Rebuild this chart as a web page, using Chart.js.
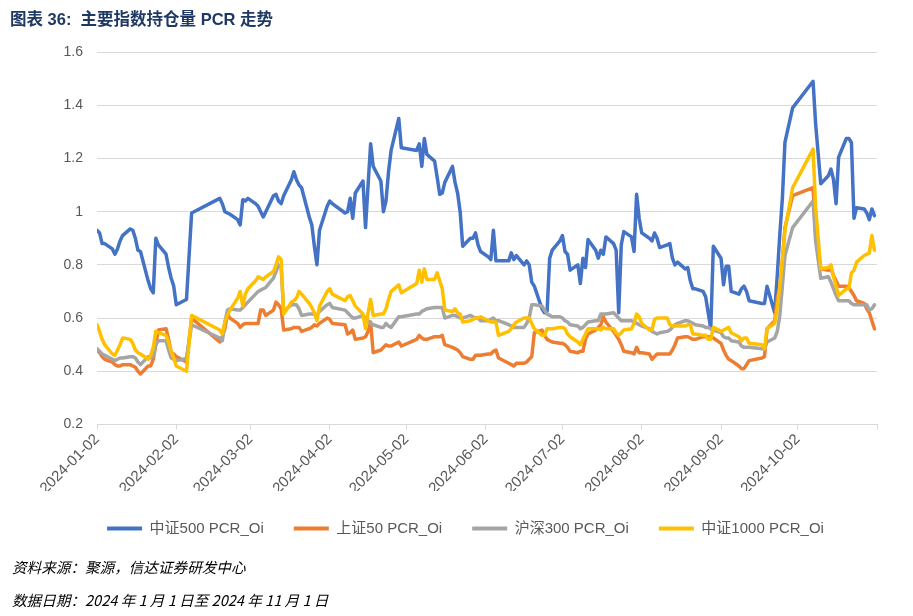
<!DOCTYPE html>
<html>
<head>
<meta charset="utf-8">
<title>主要指数持仓量 PCR 走势</title>
<script src="https://cdn.jsdelivr.net/npm/chart.js@4"></script>
<style>
  html, body { margin: 0; padding: 0; background: #fff; }
  .page { position: relative; width: 913px; height: 616px; overflow: hidden; }
  canvas { position: absolute; left: 0; top: 0; }
  .chart-title {
    position: absolute; left: 10px; top: 6px;
    font: bold 16.5px "Liberation Sans", "Noto Sans CJK SC", sans-serif;
    color: #1F3864; white-space: pre;
  }
  .note {
    position: absolute; left: 12px;
    font: italic 14.6px "Noto Sans CJK SC", sans-serif;
    color: #000; white-space: pre;
  }
</style>
</head>
<body>
<div class="page">
  <canvas id="pcrChart" width="913" height="616"></canvas>
  <div class="chart-title">图表 36:  主要指数持仓量 PCR 走势</div>
  <div class="note" style="top:556px">资料来源：聚源，信达证券研发中心</div>
  <div class="note" style="top:589px">数据日期：2024 年 1 月 1 日至 2024 年 11 月 1 日</div>
</div>
<script>
// trading days of 2024 (MM-DD), one row per week
const tradeDates = [
  '01-02','01-03','01-04','01-05',
  '01-08','01-09','01-10','01-11','01-12',
  '01-15','01-16','01-17','01-18','01-19',
  '01-22','01-23','01-24','01-25','01-26',
  '01-29','01-30','01-31','02-01','02-02',
  '02-05','02-06','02-08',
  '02-19','02-20','02-21','02-22','02-23',
  '02-26','02-27','02-28','02-29','03-01',
  '03-04','03-05','03-06','03-07','03-08',
  '03-11','03-12','03-13','03-14','03-15',
  '03-18','03-19','03-20','03-21','03-22',
  '03-25','03-26','03-27','03-28','03-29',
  '04-01','04-02','04-03',
  '04-08','04-09','04-10','04-11','04-12',
  '04-15','04-16','04-17','04-18','04-19',
  '04-22','04-23','04-24','04-25','04-26',
  '04-29','04-30',
  '05-06','05-07','05-08','05-09','05-10',
  '05-13','05-14','05-15','05-16','05-17',
  '05-20','05-21','05-22','05-23','05-24',
  '05-27','05-28','05-29','05-30','05-31',
  '06-03','06-04','06-05','06-06','06-07',
  '06-11','06-12','06-13','06-14',
  '06-17','06-18','06-19','06-20','06-21',
  '06-24','06-25','06-26','06-27','06-28',
  '07-01','07-02','07-03','07-04','07-05',
  '07-08','07-09','07-10','07-11','07-12',
  '07-15','07-16','07-17','07-18','07-19',
  '07-22','07-23','07-24','07-25','07-26',
  '07-29','07-30','07-31','08-01','08-02',
  '08-05','08-06','08-07','08-08','08-09',
  '08-12','08-13','08-14','08-15','08-16',
  '08-19','08-20','08-21','08-22','08-23',
  '08-26','08-27','08-28','08-29','08-30',
  '09-02','09-03','09-04','09-05','09-06',
  '09-09','09-10','09-11','09-12','09-13',
  '09-18','09-19','09-20',
  '09-23','09-24','09-25','09-26','09-27',
  '09-30',
  '10-08','10-09','10-11',
  '10-14','10-15','10-16','10-17','10-18',
  '10-21','10-22','10-23','10-24','10-25',
  '10-28','10-29','10-30','10-31','11-01'
];

const csi500PcrOi = [
  .93,.92,.88,.88,
  .86,.84,.86,.89,.91,
  .935,.93,.90,.855,.85,
  .74,.71,.695,.90,.875,
  .84,.79,.75,.72,.65,
  .665,.67,.995,
  1.05,1.03,1.0,.995,.99,
  .97,.95,1.045,1.04,1.05,
  1.03,1.02,1.0,.98,1.0,
  1.06,1.065,1.04,1.03,1.06,
  1.12,1.15,1.12,1.10,1.09,
  .98,.95,.87,.80,.93,
  1.02,1.04,1.03,
  .995,1.0,1.05,.975,1.07,
  1.115,.94,1.10,1.255,1.17,
  1.115,1.0,1.04,1.15,1.23,
  1.35,1.24,
  1.23,1.255,1.17,1.275,1.215,
  1.19,1.13,1.065,1.07,1.11,
  1.17,1.11,1.07,1.0,.87,
  .90,.90,.92,.875,.85,
  .83,.82,.93,.815,.815,
  .815,.845,.82,.835,
  .80,.815,.80,.735,.72,
  .635,.62,.625,.825,.855,
  .89,.91,.85,.84,.78,
  .80,.73,.825,.79,.895,
  .855,.825,.855,.84,.905,
  .88,.855,.62,.875,.925,
  .905,.85,1.065,.975,.92,
  .90,.89,.92,.90,.865,
  .875,.88,.825,.80,.81,
  .785,.79,.74,.71,.71,
  .70,.68,.62,.56,.87,
  .825,.725,.795,.795,.70,
  .69,.71,.72,.70,.665,
  .655,.655,.72,
  .62,.76,.915,1.05,1.26,
  1.39,
  1.49,1.33,1.105,
  1.135,1.16,1.12,1.03,1.205,
  1.275,1.275,1.26,.975,1.015,
  1.01,.995,.97,1.01,.985
];

const sse50PcrOi = [
  .48,.47,.455,.445,
  .435,.425,.42,.42,.425,
  .425,.42,.415,.40,.39,
  .42,.42,.445,.50,.555,
  .56,.52,.47,.465,.455,
  .44,.435,.60,
  .51,.53,.56,.615,.60,
  .58,.565,.575,.58,.58,
  .58,.58,.63,.63,.61,
  .63,.66,.65,.635,.555,
  .56,.565,.565,.565,.55,
  .56,.565,.575,.57,.58,
  .60,.595,.58,
  .575,.54,.545,.555,.52,
  .525,.53,.55,.585,.47,
  .48,.49,.50,.495,.495,
  .51,.495,
  .52,.535,.525,.52,.52,
  .53,.53,.53,.535,.50,
  .49,.485,.48,.47,.455,
  .445,.445,.46,.46,.46,
  .465,.465,.475,.48,.45,
  .43,.425,.42,.43,
  .43,.435,.445,.455,.545,
  .555,.535,.52,.515,.51,
  .505,.505,.50,.49,.475,
  .47,.475,.475,.52,.54,
  .555,.565,.575,.605,.585,
  .55,.535,.52,.50,.475,
  .47,.465,.49,.47,.47,
  .465,.445,.455,.465,.465,
  .465,.465,.48,.50,.525,
  .53,.53,.525,.52,.52,
  .53,.53,.53,.53,.525,
  .505,.48,.46,.445,.44,
  .42,.41,.41,.425,.44,
  .45,.455,.56,
  .59,.675,.715,.815,.94,
  1.06,
  1.09,.92,.785,
  .78,.785,.76,.74,.72,
  .72,.715,.70,.685,.665,
  .655,.635,.62,.59,.56
];

const hs300PcrOi = [
  .485,.475,.465,.46,
  .445,.44,.445,.45,.45,
  .455,.455,.45,.435,.425,
  .455,.45,.46,.50,.515,
  .515,.48,.45,.445,.44,
  .445,.45,.575,
  .525,.515,.585,.63,.635,
  .63,.63,.64,.65,.66,
  .69,.70,.705,.71,.715,
  .75,.775,.80,.79,.625,
  .65,.65,.65,.635,.61,
  .615,.615,.615,.61,.625,
  .65,.655,.64,
  .63,.62,.61,.60,.60,
  .61,.60,.59,.58,.575,
  .565,.565,.58,.57,.565,
  .605,.605,
  .615,.615,.625,.63,.635,
  .64,.64,.64,.64,.60,
  .61,.61,.605,.60,.60,
  .61,.605,.60,.60,.59,
  .59,.595,.60,.59,.59,
  .575,.57,.565,.565,
  .565,.58,.60,.65,.65,
  .645,.63,.615,.61,.605,
  .605,.60,.59,.585,.575,
  .57,.56,.565,.575,.585,
  .59,.59,.615,.615,.615,
  .62,.61,.60,.59,.59,
  .59,.585,.58,.575,.57,
  .56,.55,.545,.54,.545,
  .55,.555,.565,.575,.58,
  .59,.59,.585,.58,.575,
  .57,.565,.565,.56,.555,
  .545,.53,.525,.525,.515,
  .51,.495,.49,.49,.49,
  .485,.485,.51,
  .525,.55,.61,.72,.835,
  .94,
  1.04,.89,.75,
  .755,.735,.71,.685,.665,
  .665,.665,.655,.65,.65,
  .65,.65,.63,.635,.65
];

const csi1000PcrOi = [
  .575,.55,.52,.50,
  .465,.46,.48,.50,.525,
  .52,.505,.48,.47,.465,
  .445,.46,.49,.55,.545,
  .535,.51,.475,.45,.42,
  .405,.40,.61,
  .555,.54,.585,.61,.63,
  .675,.70,.645,.69,.71,
  .74,.755,.75,.745,.755,
  .775,.80,.83,.82,.615,
  .66,.665,.675,.70,.69,
  .655,.64,.62,.59,.645,
  .70,.71,.69,
  .665,.68,.685,.665,.645,
  .615,.56,.62,.67,.61,
  .615,.615,.635,.67,.70,
  .725,.695,
  .73,.78,.735,.785,.745,
  .745,.77,.74,.71,.63,
  .625,.635,.62,.615,.585,
  .59,.595,.60,.60,.605,
  .59,.585,.585,.585,.535,
  .55,.56,.575,.585,
  .60,.60,.60,.58,.56,
  .535,.535,.56,.56,.56,
  .565,.565,.56,.54,.53,
  .51,.50,.52,.54,.56,
  .56,.56,.555,.565,.56,
  .56,.545,.535,.545,.555,
  .56,.58,.615,.605,.58,
  .555,.555,.595,.60,.60,
  .60,.575,.57,.57,.57,
  .57,.575,.575,.54,.54,
  .535,.535,.52,.52,.565,
  .55,.555,.56,.565,.545,
  .53,.515,.525,.525,.505,
  .50,.485,.56,
  .58,.64,.72,.82,.93,
  1.09,
  1.235,1.015,.785,
  .79,.80,.755,.72,.685,
  .71,.71,.77,.78,.81,
  .835,.84,.845,.91,.855
];

const seriesNames = ['中证500 PCR_Oi', '上证50 PCR_Oi', '沪深300 PCR_Oi', '中证1000 PCR_Oi'];
const seriesColors = ['#4472C4', '#ED7D31', '#A5A5A5', '#FFC000'];
const tickDates = ['2024-01-02', '2024-02-02', '2024-03-02', '2024-04-02', '2024-05-02',
  '2024-06-02', '2024-07-02', '2024-08-02', '2024-09-02', '2024-10-02'];
const axisEnd = '2024-11-02';

const allSeries = [csi500PcrOi, sse50PcrOi, hs300PcrOi, csi1000PcrOi];
allSeries.forEach((s, i) => {
  if (s.length !== tradeDates.length) throw new Error(seriesNames[i] + ' has ' + s.length + ' values, expected ' + tradeDates.length);
});

// x is days since the first date, like an Excel date axis
const startMs = Date.parse('2024-01-02');
const dayOf = (isoDate) => Math.round((Date.parse(isoDate) - startMs) / 86400000);

const tickLabels = {};
tickDates.forEach((d) => { tickLabels[dayOf(d)] = d; });

const fontFamily = '"Liberation Sans", "Noto Sans CJK SC", sans-serif';
const gridColor = '#D9D9D9';
const textColor = '#595959';

const datasets = allSeries.map((values, i) => ({
  label: seriesNames[i],
  data: tradeDates.map((d, j) => ({ x: dayOf('2024-' + d), y: values[j] })),
  borderColor: seriesColors[i],
  backgroundColor: seriesColors[i],
  borderWidth: 3.5,
  borderJoinStyle: 'round',
  borderCapStyle: 'round',
  pointRadius: 0,
  tension: 0,
  order: allSeries.length - 1 - i, // later series drawn on top, as in the source
}));

const ctx = document.getElementById('pcrChart');
new Chart(ctx, {
  type: 'line',
  data: { datasets },
  options: {
    responsive: false,
    animation: false,
    devicePixelRatio: 1,
    layout: { padding: { top: 52, right: 36, bottom: 70, left: 54 } },
    scales: {
      x: {
        type: 'linear',
        min: 0,
        max: dayOf(axisEnd),
        afterFit: (scale) => { scale.height = 66.5; },
        afterBuildTicks: (scale) => {
          scale.ticks = tickDates.concat(axisEnd).map((d) => ({ value: dayOf(d) }));
        },
        grid: { display: true, drawOnChartArea: false, drawTicks: true, tickLength: 5, color: gridColor },
        border: { display: true, color: gridColor },
        ticks: {
          autoSkip: false,
          maxRotation: 45,
          minRotation: 45,
          padding: 1,
          color: textColor,
          font: { family: fontFamily, size: 15 },
          callback: (value) => tickLabels[value] || '',
        },
      },
      y: {
        min: 0.2,
        max: 1.6,
        afterFit: (scale) => { scale.width = 43; },
        grid: { color: gridColor, drawTicks: false },
        border: { display: false },
        ticks: {
          stepSize: 0.2,
          padding: 14,
          color: textColor,
          font: { family: fontFamily, size: 14 },
          callback: (value) => String(+value.toFixed(1)),
        },
      },
    },
    plugins: {
      tooltip: { enabled: false },
      legend: {
        position: 'bottom',
        labels: {
          boxWidth: 35,
          boxHeight: 4,
          padding: 30,
          color: textColor,
          font: { family: fontFamily, size: 15 },
          sort: (a, b) => a.datasetIndex - b.datasetIndex,
          generateLabels: (chart) =>
            Chart.defaults.plugins.legend.labels.generateLabels(chart).map((item) => ({ ...item, lineWidth: 0 })),
        },
      },
    },
  },
});
</script>
</body>
</html>
